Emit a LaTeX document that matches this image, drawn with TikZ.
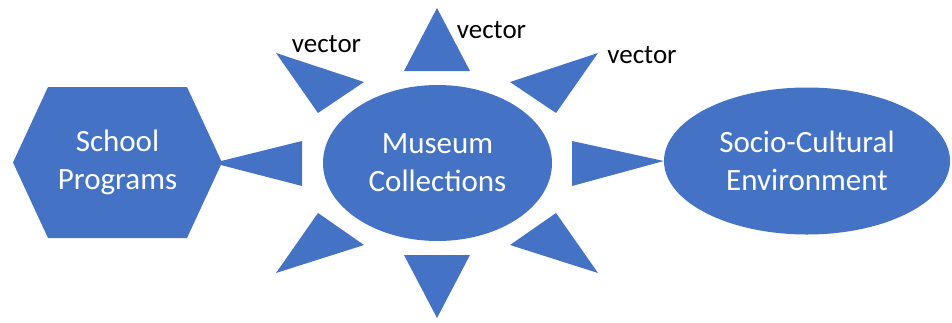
\documentclass[tikz,border=0pt]{standalone}
\usepackage{fontspec}
\setmainfont{Carlito}
\usepackage{xcolor}
\usetikzlibrary{shapes.geometric, positioning}
\definecolor{officeblue}{HTML}{4472C4}

\begin{document}
\begin{tikzpicture}[
    x=1pt, y=-1pt,
    blob/.style={ellipse, fill=officeblue, text=white, align=center, inner sep=0pt, font=\fontsize{31}{38}\selectfont},
    hexlabel/.style={text=white, align=center, inner sep=0pt, font=\fontsize{31}{38}\selectfont},
    vec/.style={anchor=base, inner sep=0pt, font=\fontsize{27}{32}\selectfont},
    pointer/.style={fill=officeblue}
]
\useasboundingbox (0,0) rectangle (952,322);

% Hexagon (School Programs)
\fill[officeblue] (13,162.5) -- (48,87) -- (187,87) -- (222,162.5) -- (187,238) -- (48,238) -- cycle;
\node[hexlabel] (school) at (117.5,162.5) {School\\Programs};
\coordinate (schooltip) at (213,163);

% Ellipses
\node[blob, minimum width=229, minimum height=156] (museum) at (437.5,163) {Museum\\Collections};
\node[blob, minimum width=286, minimum height=147] (socio) at (807,161) {Socio-Cultural\\Environment};

% Pointers round the museum
\fill[pointer] (302,141) -- (302,186) -- (schooltip) -- cycle;
\fill[pointer] (572,141) -- (572,186) -- (socio.west) -- cycle;
\fill[pointer] (404,71) -- (470,71) -- (437,8) -- cycle;
\fill[pointer] (404,255) -- (470,255) -- (437,318) -- cycle;
\fill[pointer] (276,53) -- (364,82) -- (318,113) -- cycle;
\fill[pointer] (598,53) -- (510,82) -- (556,113) -- cycle;
\fill[pointer] (318,213) -- (364,245) -- (276,273) -- cycle;
\fill[pointer] (556,213) -- (510,245) -- (598,273) -- cycle;

% Labels
\node[vec] (vecleft) at (326.5,52) {vector};
\node[vec] (vectop) at (491.5,38) {vector};
\node[vec] (vecright) at (642,63) {vector};

\end{tikzpicture}
\end{document}
